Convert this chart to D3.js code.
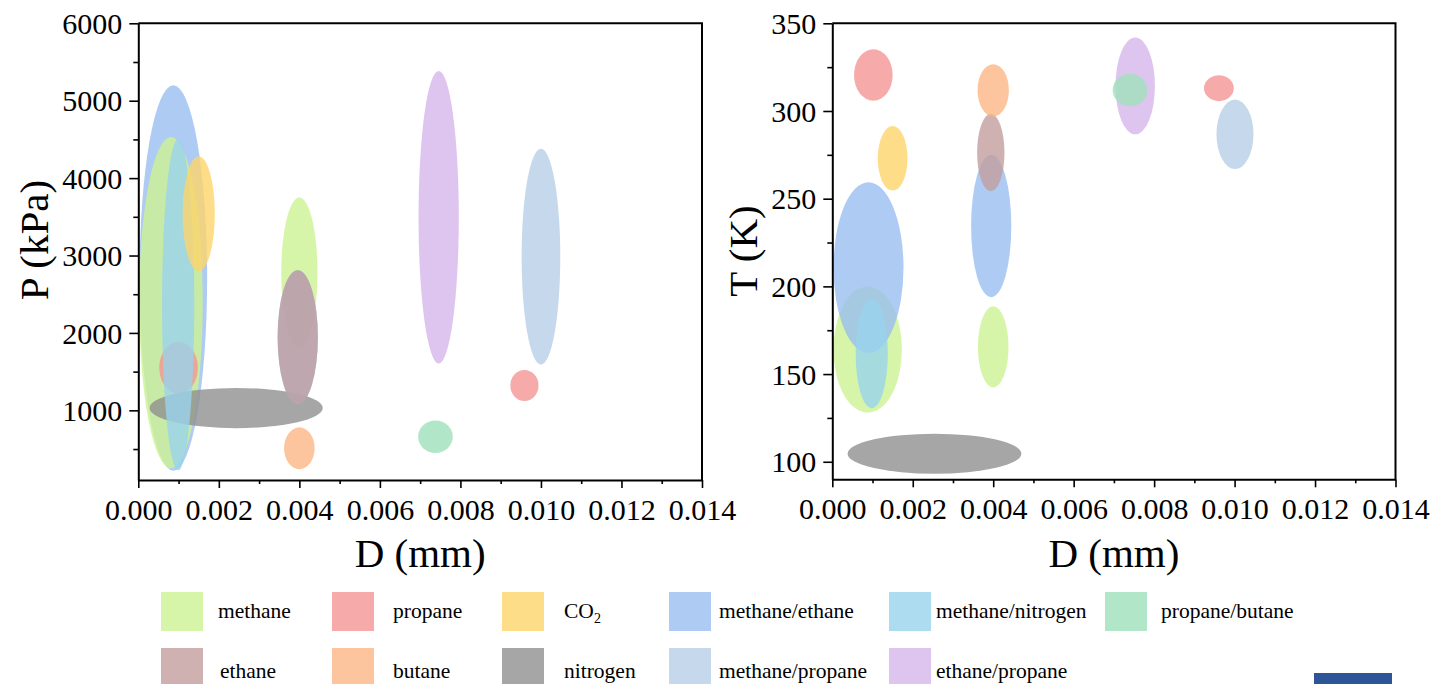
<!DOCTYPE html>
<html>
<head>
<meta charset="utf-8">
<script src="https://cdn.jsdelivr.net/npm/d3@7"></script>
<style>
  html, body { margin: 0; padding: 0; background: #fff; }
  svg { display: block; font-family: "Liberation Serif", "Times New Roman", serif; }
</style>
</head>
<body>
<svg id="chart" width="1442" height="684"></svg>
<script>
// ---------- data ----------
const seriesNames = ["methane", "propane", "CO2", "methane/ethane", "methane/nitrogen", "propane/butane",
                     "ethane", "butane", "nitrogen", "methane/propane", "ethane/propane"];
const seriesColors = ["#d7f5a8", "#f7aaaa", "#fedd88", "#aecbf3", "#addcf0", "#b2e6c9",
                      "#cfb1b1", "#fdc59e", "#a6a6a6", "#c5d8ec", "#dec5ef"];

// left panel: P (kPa) vs D (mm) — each ellipse: series, centre D, centre P, half-width D, half-height P
const pSeries  = ["methane/ethane", "methane", "propane", "nitrogen", "methane/nitrogen", "CO2",
                  "methane", "methane/ethane", "ethane", "butane", "propane/butane",
                  "ethane/propane", "methane/propane", "propane"];
const pCenterD = [0.00087, 0.00081, 0.00100, 0.00243, 0.00099, 0.00150,
                  0.00400, 0.00396, 0.00396, 0.00400, 0.00738,
                  0.00746, 0.01000, 0.00959];
const pCenterP = [2710, 2390, 1550, 1030, 2365, 3540,
                  2775, 1945, 1945, 510, 660,
                  3495, 2985, 1320];
const pHalfD   = [0.00084, 0.00079, 0.00048, 0.00215, 0.00040, 0.00040,
                  0.00045, 0.00050, 0.00050, 0.00038, 0.00043,
                  0.00050, 0.00048, 0.00035];
const pHalfP   = [2490, 2140, 335, 260, 2140, 740,
                  975, 865, 865, 270, 210,
                  1890, 1395, 200];

// right panel: T (K) vs D (mm)
const tSeries  = ["methane", "methane/ethane", "methane/nitrogen", "propane", "CO2",
                  "methane", "methane/ethane", "ethane", "butane",
                  "ethane/propane", "propane/butane", "propane", "methane/propane", "nitrogen"];
const tCenterD = [0.00088, 0.00090, 0.00098, 0.00102, 0.00150,
                  0.00400, 0.00395, 0.00394, 0.00400,
                  0.00753, 0.00740, 0.00961, 0.01001, 0.00254];
const tCenterT = [164.0, 210.7, 161.7, 320.5, 273.0,
                  165.5, 234.4, 276.3, 311.8,
                  314.3, 312.0, 313.0, 286.7, 104.6];
const tHalfD   = [0.00085, 0.00087, 0.00040, 0.00048, 0.00037,
                  0.00038, 0.00050, 0.00034, 0.00039,
                  0.00049, 0.00043, 0.00037, 0.00046, 0.00216];
const tHalfT   = [36.0, 48.7, 31.2, 14.7, 18.4,
                  23.1, 40.6, 22.1, 14.9,
                  27.6, 9.3, 7.4, 19.8, 11.4];

const xTicks = [0, 0.002, 0.004, 0.006, 0.008, 0.010, 0.012, 0.014];
const xMinorTicks = [0.001, 0.003, 0.005, 0.007, 0.009, 0.011, 0.013];
const pTicks = [1000, 2000, 3000, 4000, 5000, 6000];
const pMinorTicks = [500, 1500, 2500, 3500, 4500, 5500];
const tTicks = [100, 150, 200, 250, 300, 350];
const tMinorTicks = [125, 175, 225, 275, 325];

// ---------- drawing ----------
const svg = d3.select("#chart");
const colorOf = d3.scaleOrdinal().domain(seriesNames).range(seriesColors);
const FILL_OPACITY = 0.8;
// darken base so an isolated ellipse over white shows the legend colour
function baseColor(c) {
  const r = d3.rgb(c);
  const f = v => Math.max(0, Math.round(255 - (255 - v) / FILL_OPACITY));
  return d3.rgb(f(r.r), f(r.g), f(r.b)).formatHex();
}

function panel(opts) {
  const g = svg.append("g");
  const x = d3.scaleLinear().domain([0, 0.014]).range([opts.left, opts.right]);
  const y = d3.scaleLinear().domain(opts.yDomain).range([opts.bottom, opts.top]);

  // ellipses
  const idx = d3.range(opts.series.length);
  g.append("g").selectAll("ellipse").data(idx).join("ellipse")
    .attr("cx", i => x(opts.cx[i]))
    .attr("cy", i => y(opts.cy[i]))
    .attr("rx", i => x(opts.cx[i] + opts.hx[i]) - x(opts.cx[i]))
    .attr("ry", i => y(opts.cy[i] - opts.hy[i]) - y(opts.cy[i]))
    .attr("fill", i => baseColor(colorOf(opts.series[i])))
    .attr("fill-opacity", FILL_OPACITY);

  // frame (top + right)
  g.append("path")
    .attr("d", `M${opts.left},${opts.top}H${opts.right}V${opts.bottom}`)
    .attr("fill", "none").attr("stroke", "#000").attr("stroke-width", 2);

  // x axis
  const xa = g.append("g").attr("transform", `translate(0,${opts.bottom})`)
    .call(d3.axisBottom(x).tickValues(xTicks).tickFormat(d3.format(".3f")).tickSize(8).tickSizeOuter(0).tickPadding(10));
  g.append("g").attr("transform", `translate(0,${opts.bottom})`)
    .call(d3.axisBottom(x).tickValues(xMinorTicks).tickFormat("").tickSize(4).tickSizeOuter(0))
    .select(".domain").remove();
  // y axis
  const ya = g.append("g").attr("transform", `translate(${opts.left},0)`)
    .call(d3.axisLeft(y).tickValues(opts.yTicks).tickFormat(d3.format("d")).tickSize(9).tickSizeOuter(0).tickPadding(7));
  g.append("g").attr("transform", `translate(${opts.left},0)`)
    .call(d3.axisLeft(y).tickValues(opts.yMinor).tickFormat("").tickSize(5).tickSizeOuter(0))
    .select(".domain").remove();

  g.selectAll(".domain").attr("stroke", "#000").attr("stroke-width", 2);
  g.selectAll(".tick line").attr("stroke", "#000").attr("stroke-width", 1.6);
  xa.selectAll("text").attr("font-size", 30).attr("font-family", "Liberation Serif, serif").attr("fill", "#000")
    .attr("dy", null).attr("y", 40).attr("dominant-baseline", "alphabetic");
  ya.selectAll("text").attr("font-size", 30).attr("font-family", "Liberation Serif, serif").attr("fill", "#000")
    .attr("dy", "0.34em");

  // titles
  g.append("text").attr("x", (opts.left + opts.right) / 2).attr("y", 567)
    .attr("text-anchor", "middle").attr("font-size", 41).attr("fill", "#000").text("D (mm)");
  g.append("text").attr("transform", `translate(${opts.yTitleX},${opts.yTitleY}) rotate(-90)`)
    .attr("text-anchor", "middle").attr("font-size", 41).attr("fill", "#000").text(opts.yTitle);
}

panel({
  left: 138.3, right: 702, top: 23.3, bottom: 480,
  yDomain: [100, 6000], yTicks: pTicks, yMinor: pMinorTicks,
  series: pSeries, cx: pCenterD, cy: pCenterP, hx: pHalfD, hy: pHalfP,
  yTitle: "P (kPa)", yTitleX: 48, yTitleY: 240
});
panel({
  left: 832.3, right: 1395.5, top: 23.3, bottom: 479.3,
  yDomain: [90, 350], yTicks: tTicks, yMinor: tMinorTicks,
  series: tSeries, cx: tCenterD, cy: tCenterT, hx: tHalfD, hy: tHalfT,
  yTitle: "T (K)", yTitleX: 757, yTitleY: 251
});

// ---------- legend ----------
const legendRows = [
  ["methane", "propane", "CO2", "methane/ethane", "methane/nitrogen", "propane/butane"],
  ["ethane", "butane", "nitrogen", "methane/propane", "ethane/propane"]
];
const swatchX = [161, 332, 502, 669, 889, 1105];
const textX = [218, 393, 564, 719, 936, 1161];
const rowY = [592, 648];
const lg = svg.append("g");
legendRows.forEach((row, r) => {
  row.forEach((name, c) => {
    lg.append("rect").attr("x", swatchX[c]).attr("y", rowY[r]).attr("width", 42).attr("height", 39)
      .attr("fill", colorOf(name));
    const t = lg.append("text").attr("x", textX[c] + (r === 1 && c === 0 ? 2 : 0)).attr("y", rowY[r] + 26 + (r === 1 ? 4 : 0))
      .attr("font-size", 21.5).attr("fill", "#000");
    if (name === "CO2") {
      t.append("tspan").text("CO");
      t.append("tspan").attr("font-size", 14).attr("dy", 5).text("2");
    } else {
      t.text(name);
    }
  });
});
// stray bar in the corner of the original figure
svg.append("rect").attr("x", 1314).attr("y", 673).attr("width", 78).attr("height", 11).attr("fill", "#2e5597");
</script>
</body>
</html>
